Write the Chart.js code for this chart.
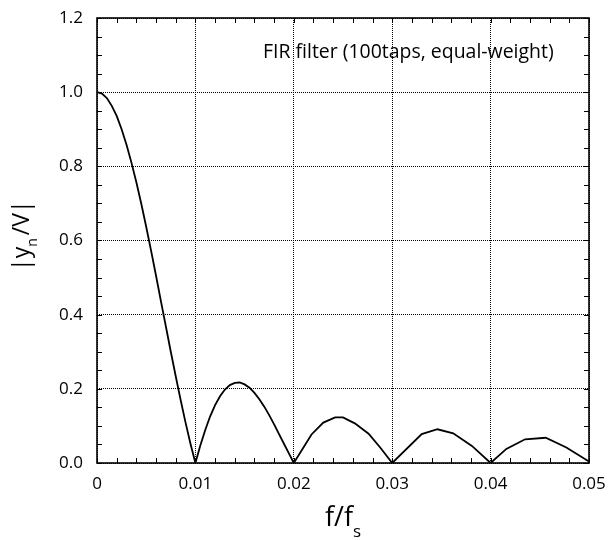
<!DOCTYPE html>
<html>
<head>
<meta charset="utf-8">
<script src="https://cdn.jsdelivr.net/npm/chart.js@4/dist/chart.umd.min.js"></script>
<style>
html,body{margin:0;padding:0;background:#fff;}
#c{display:block;}
</style>
</head>
<body>
<canvas id="c" width="608" height="540"></canvas>
<script>
// Normalised frequency f/fs
const freq = [0,0.0005,0.001,0.0015,0.002,0.0025,0.003,0.0035,0.004,0.0045,0.005,
  0.0055,0.006,0.0065,0.007,0.0075,0.008,0.0085,0.009,0.0095,0.01,
  0.0105,0.011,0.0115,0.012,0.0125,0.013,0.0135,0.014,0.0145,0.015,
  0.0155,0.016,0.0165,0.017,0.0175,0.018,0.0185,0.019,0.0195,0.02,
  0.0218,0.023,0.0242,0.025,0.0262,0.0276,0.0288,0.03,
  0.033,0.0346,0.0362,0.0381,0.04,
  0.0416,0.0435,0.0456,0.0477,0.05];
// |y_n / V|
const magnitude = [1.000,0.996,0.984,0.963,0.936,0.900,0.858,0.810,0.757,0.699,0.637,
  0.572,0.505,0.436,0.368,0.300,0.234,0.170,0.109,0.052,0.000,
  0.047,0.089,0.126,0.156,0.180,0.198,0.210,0.216,0.217,0.212,
  0.203,0.189,0.172,0.152,0.129,0.104,0.078,0.052,0.026,0.000,
  0.077,0.109,0.123,0.123,0.107,0.079,0.041,0.000,
  0.078,0.091,0.080,0.046,0.000,
  0.038,0.064,0.068,0.042,0.004];
const xTicks = [0,0.01,0.02,0.03,0.04,0.05];
const xTickLabels = ["0","0.01","0.02","0.03","0.04","0.05"];
const yTicks = [0,0.2,0.4,0.6,0.8,1.0,1.2];
const yTickLabels = ["0.0","0.2","0.4","0.6","0.8","1.0","1.2"];
const annotationText = "FIR filter (100taps, equal-weight)";

const FONT = "'Open Sans', 'DejaVu Sans', sans-serif";

const points = freq.map((f,i)=>({x:f,y:magnitude[i]}));

const decor = {
  id:'decor',
  afterDraw(chart){
    const ctx = chart.ctx;
    const a = chart.chartArea;
    const xs = chart.scales.x, ys = chart.scales.y;
    ctx.save();
    // minor ticks (inward, all four sides)
    ctx.strokeStyle = '#000';
    ctx.lineWidth = 1;
    ctx.beginPath();
    for (let k=0;k<=25;k++){
      const px = Math.round(xs.getPixelForValue(k*0.002))+0.5;
      ctx.moveTo(px,a.bottom); ctx.lineTo(px,a.bottom-5);
      ctx.moveTo(px,a.top); ctx.lineTo(px,a.top+5);
    }
    for (let k=0;k<=24;k++){
      const py = Math.round(ys.getPixelForValue(k*0.05))+0.5;
      ctx.moveTo(a.left,py); ctx.lineTo(a.left+5,py);
      ctx.moveTo(a.right,py); ctx.lineTo(a.right-5,py);
    }
    ctx.stroke();
    // frame
    ctx.lineWidth = 1.6;
    ctx.strokeRect(a.left, a.top, a.right-a.left, a.bottom-a.top);

    ctx.fillStyle = '#000';
    ctx.textBaseline = 'alphabetic';
    // annotation
    ctx.font = "17px " + FONT;
    let w = ctx.measureText(annotationText).width;
    const fs = 17*291/w;
    ctx.font = fs.toFixed(2)+"px " + FONT;
    ctx.textAlign = 'left';
    ctx.fillText(annotationText, 263, 58);

    // x title f/f_s
    ctx.font = "27px " + FONT;
    const main = "f/f";
    const wm = ctx.measureText(main).width;
    ctx.font = "17px " + FONT;
    const ws = ctx.measureText("s").width;
    const cx = (a.left+a.right)/2;
    const x0 = cx - (wm+ws)/2;
    ctx.font = "27px " + FONT;
    ctx.fillText(main, x0, 526);
    ctx.font = "17px " + FONT;
    ctx.fillText("s", x0+wm, 537);

    // y title |y_n /V|
    ctx.translate(29, 271);
    ctx.rotate(-Math.PI/2);
    ctx.font = "23px " + FONT;
    const p1 = "|y", p3 = "/V|";
    const w1 = ctx.measureText(p1).width;
    ctx.fillText(p1, 0, 0);
    ctx.font = "14px " + FONT;
    const wn = ctx.measureText("n").width;
    ctx.fillText("n", w1, 8);
    ctx.font = "23px " + FONT;
    ctx.fillText(p3, w1+wn+3, 0);
    ctx.restore();
  }
};

new Chart(document.getElementById('c'), {
  type:'line',
  data:{datasets:[{
    data:points,
    borderColor:'#000',
    borderWidth:1.8,
    pointRadius:0,
    fill:false,
    tension:0
  }]},
  options:{
    responsive:false,
    animation:false,
    events:[],
    layout:{padding:{top:18,right:19,left:0,bottom:0}},
    plugins:{legend:{display:false},tooltip:{enabled:false}},
    scales:{
      x:{
        type:'linear', min:0, max:0.05,
        afterFit(s){ s.height = 77; s.paddingLeft = 0; s.paddingRight = 0; },
        afterBuildTicks(s){ s.ticks = xTicks.map(v=>({value:v})); },
        border:{display:false, dash:[1,1]},
        grid:{color:'#000', lineWidth:1, drawTicks:false},
        ticks:{
          padding:11, color:'#000', maxRotation:0, autoSkip:false,
          font:{family:FONT, size:17},
          callback:(v)=>{ const i = xTicks.findIndex(t=>Math.abs(t-v)<1e-9); return i>=0?xTickLabels[i]:''; }
        }
      },
      y:{
        type:'linear', min:0, max:1.2,
        afterFit(s){ s.width = 97; s.paddingTop = 0; s.paddingBottom = 0; },
        afterBuildTicks(s){ s.ticks = yTicks.map(v=>({value:v})); },
        border:{display:false, dash:[1,1]},
        grid:{color:'#000', lineWidth:1, drawTicks:false},
        ticks:{
          padding:14, color:'#000', autoSkip:false,
          font:{family:FONT, size:17},
          callback:(v)=>{ const i = yTicks.findIndex(t=>Math.abs(t-v)<1e-9); return i>=0?yTickLabels[i]:''; }
        }
      }
    }
  },
  plugins:[decor]
});
</script>
</body>
</html>
